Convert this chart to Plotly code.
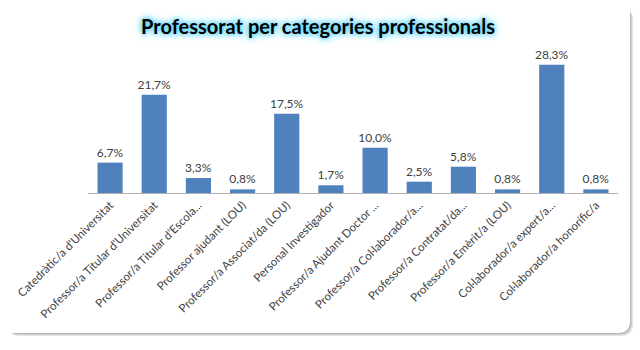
import plotly.graph_objects as go

categories = [
    "Catedràtic/a d'Universitat",
    "Professor/a Titular d'Universitat",
    "Professor/a Titular d'Escola...",
    "Professor ajudant (LOU)",
    "Professor/a Associat/da (LOU)",
    "Personal Investigador",
    "Professor/a Ajudant Doctor ...",
    "Professor/a Col·laborador/a...",
    "Professor/a Contratat/da...",
    "Professor/a Emèrit/a (LOU)",
    "Col·laborador/a expert/a...",
    "Col·laborador/a honorífic/a",
]
values = [6.7, 21.7, 3.3, 0.8, 17.5, 1.7, 10.0, 2.5, 5.8, 0.8, 28.3, 0.8]
value_labels = [f"{v:.1f}%".replace(".", ",") for v in values]

W, H = 640, 350
L, R, T, B = 88, 22, 57, 157

fig = go.Figure(go.Bar(
    x=categories, y=values,
    marker=dict(color="#4f81bd", line=dict(width=0)),
    text=value_labels, textposition="outside", constraintext="none",
    textfont=dict(family="Lato, Noto Sans, sans-serif", size=12, color="#404040"),
    cliponaxis=False,
))

pw, ph = W - L - R, H - T - B
def px(x):  # pixel x -> paper
    return (x - L) / pw
def py(y):  # pixel y (from top) -> paper
    return (H - B - y) / ph

def rrect(x0, y0, x1, y1, r):
    return (f"M {px(x0+r)},{py(y0)} L {px(x1-r)},{py(y0)} "
            f"Q {px(x1)},{py(y0)} {px(x1)},{py(y0+r)} "
            f"L {px(x1)},{py(y1-r)} Q {px(x1)},{py(y1)} {px(x1-r)},{py(y1)} "
            f"L {px(x0+r)},{py(y1)} Q {px(x0)},{py(y1)} {px(x0)},{py(y1-r)} "
            f"L {px(x0)},{py(y0+r)} Q {px(x0)},{py(y0)} {px(x0+r)},{py(y0)} Z")

shapes = []
for off, col in [(6, "#e4e4e4"), (5, "#cfcfcf"), (4, "#b8b8b8"), (3, "#a8a8a8")]:
    shapes.append(dict(type="path", xref="paper", yref="paper", layer="below",
                       path=rrect(2 + off, 2 + off, 630 + off - 3, 333 + off - 3, 12),
                       fillcolor=col, line=dict(width=0)))
shapes.append(dict(type="path", xref="paper", yref="paper", layer="below",
                   path=rrect(-10, -10, 630, 333, 12),
                   fillcolor="white", line=dict(width=0)))

fig.update_layout(
    width=W, height=H,
    margin=dict(l=L, r=R, t=T, b=B),
    paper_bgcolor="white", plot_bgcolor="white",
    bargap=0.43,
    showlegend=False,
    shapes=shapes,
    title=dict(
        text="<b>Professorat per categories professionals</b>",
        x=318 / W, xanchor="center", y=1 - 27 / H, yanchor="middle",
        font=dict(family="Lato, Noto Sans, sans-serif", size=20, color="#000000",
                  shadow="0 0 4px #55d0f5, 0 0 7px #55d0f5, 0 0 10px #8fe3fa"),
    ),
    xaxis=dict(
        tickangle=-45, showgrid=False, showline=True, linecolor="#b0b0b0", linewidth=1,
        ticks="", tickfont=dict(family="Lato, Noto Sans, sans-serif", size=11.5, color="#404040"),
    ),
    yaxis=dict(range=[0, 30], visible=False, showgrid=False),
)

fig.write_html("out.html")
